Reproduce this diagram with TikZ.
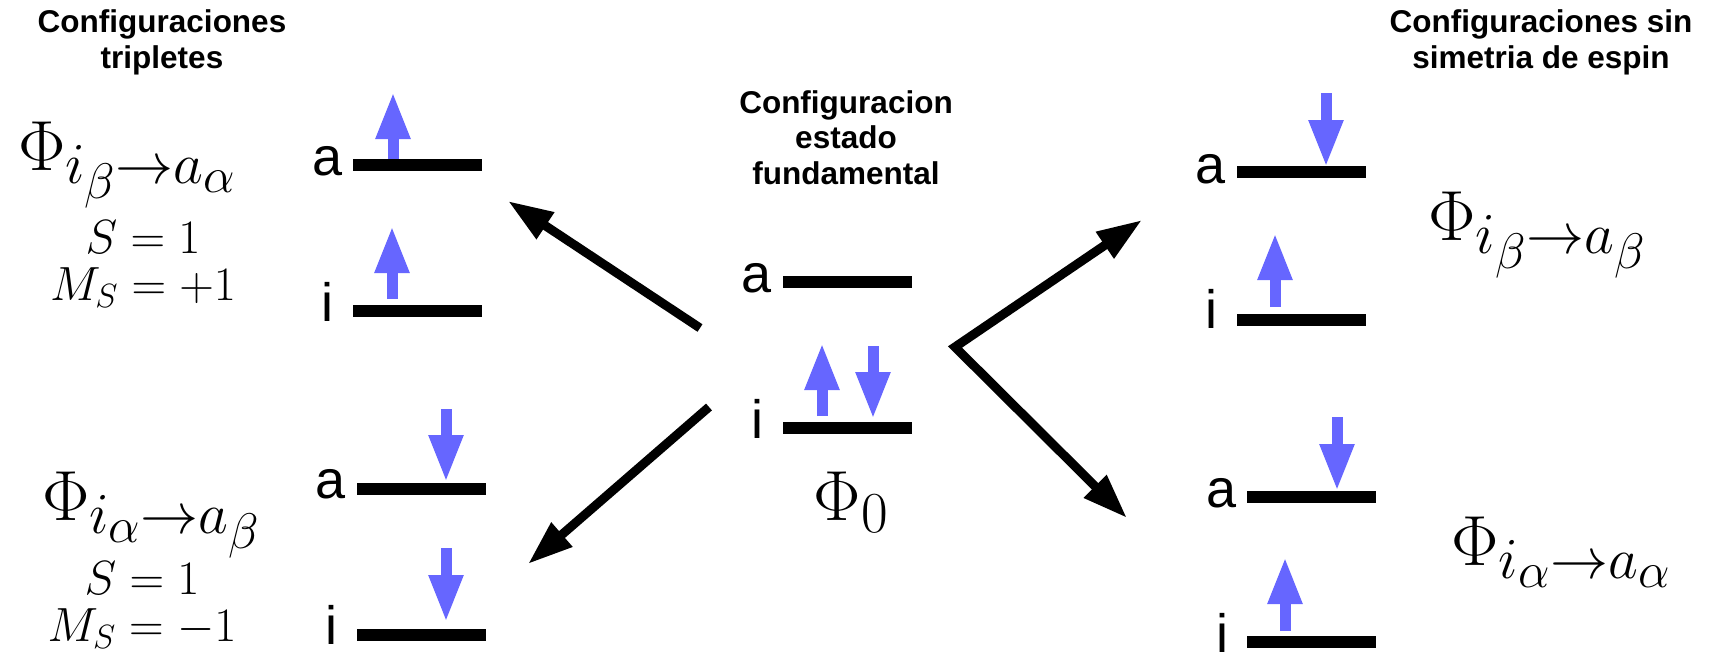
\documentclass[tikz,border=0pt]{standalone}
\usepackage{fix-cm}
\usepackage[no-math]{fontspec}
\newfontfamily\lsans{Liberation Sans}
\DeclareMathSizes{71}{71}{58}{50}
\usetikzlibrary{arrows.meta}

\begin{document}
\begin{tikzpicture}[
        x=1pt,
        y=-1pt,
        title/.style={font=\lsans\bfseries\fontsize{31.5}{35.5}\selectfont, align=center, anchor=base, inner sep=0pt},
        orb/.style={font=\lsans\fontsize{54}{60}\selectfont, anchor=base, inner sep=0pt},
        wfn/.style={font=\fontsize{71}{80}\selectfont, anchor=base, inner sep=0pt},
        spinq/.style={font=\fontsize{48}{47}\selectfont, align=center, anchor=base, inner sep=0pt},
        level/.style={line width=11.5pt},
        spin/.style={color=blue!60, line width=11pt, -{Triangle[length=47pt,width=32pt]}},
        trans/.style={line width=9pt, >={Triangle[length=45pt,width=30pt]}}
    ]
        \useasboundingbox (0,0) rectangle (1709,654);

        % Titles (base = last line)
        \node[title] (ttrip) at (162,68){Configuraciones\\tripletes};
        \node[title] (tfund) at (846,184){Configuracion\\estado\\fundamental};
        \node[title] (tnosym) at (1541,68){Configuraciones sin\\simetria de espin};

        % Ground state
        \draw[level] (783,282) -- (912,282);
        \draw[level] (783,428) -- (912,428);
        \node[orb] (ca) at (757,292){a};
        \node[orb] (ci) at (757,438){i};
        \draw[spin] (822,416) -- (822,343);
        \draw[spin] (873,346) -- (873,419);
        \node[wfn] (phi0) at (851,520){$\Phi_0$};

        % Triplet M_S=+1
        \draw[level] (353,165) -- (482,165);
        \draw[level] (353,311) -- (482,311);
        \node[orb] (lta) at (328,175){a};
        \node[orb] (lti) at (327,321){i};
        \draw[spin] (393,159) -- (393,92);
        \draw[spin] (392,299) -- (392,226);
        \node[wfn] (phiup) at (127,170){$\Phi_{i_\beta\to a_\alpha}$};
        \node[spinq] (sup) at (143,300){$S=1$\\$M_S=+1$};

        % Triplet M_S=-1
        \draw[level] (357,489) -- (486,489);
        \draw[level] (357,635) -- (486,635);
        \node[orb] (lba) at (331,498){a};
        \node[orb] (lbi) at (331,644){i};
        \draw[spin] (446,409) -- (446,482);
        \draw[spin] (446,548) -- (446,622);
        \node[wfn] (phidn) at (151,520){$\Phi_{i_\alpha\to a_\beta}$};
        \node[spinq] (sdn) at (142,641){$S=1$\\$M_S=-1$};

        % Spin flip, beta
        \draw[level] (1237,172) -- (1366,172);
        \draw[level] (1237,320) -- (1366,320);
        \node[orb] (rta) at (1211,183){a};
        \node[orb] (rti) at (1211,328){i};
        \draw[spin] (1326,93) -- (1326,167);
        \draw[spin] (1275,307) -- (1275,233);
        \node[wfn] (phibb) at (1537,240){$\Phi_{i_\beta\to a_\beta}$};

        % Spin flip, alpha
        \draw[level] (1247,497) -- (1376,497);
        \draw[level] (1247,642) -- (1376,642);
        \node[orb] (rba) at (1222,507){a};
        \node[orb] (rbi) at (1222,652){i};
        \draw[spin] (1337,417) -- (1337,491);
        \draw[spin] (1285,631) -- (1285,557);
        \node[wfn] (phiaa) at (1561,565){$\Phi_{i_\alpha\to a_\alpha}$};

        % Excitations
        \coordinate (gsUL) at (700,328);
        \coordinate (gsLL) at (709,407);
        \coordinate (gsR) at (955,347);
        \coordinate (tripUp) at (508,201);
        \coordinate (tripDn) at (528,564);
        \coordinate (flipB) at (1142,220);
        \coordinate (flipA) at (1127,518);
        \draw[trans,->] (gsUL) -- (tripUp);
        \draw[trans,->] (gsLL) -- (tripDn);
        \draw[trans,<->] (flipB) -- (gsR) -- (flipA);
    \end{tikzpicture}
\end{document}
